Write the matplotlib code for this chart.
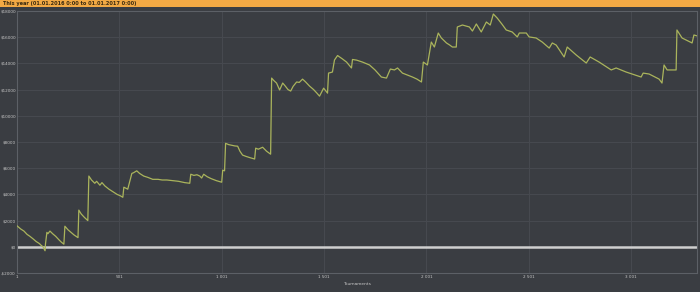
import matplotlib
matplotlib.use('Agg')
import matplotlib.pyplot as plt
from matplotlib.patches import Rectangle

# Cumulative winnings over the year
tournaments = [
    1, 20, 35, 50, 64, 80, 95, 110, 120, 128, 138, 140, 147, 152, 162, 175,
    190, 205, 218, 230, 235, 250, 265, 280, 299, 303, 315, 330, 347, 352, 365,
    381, 390, 406, 416, 430, 450, 470, 490, 505, 518, 523, 535, 542, 562, 570,
    586, 600, 620, 640, 664, 690, 710, 733, 760, 790, 820, 845, 850, 865, 880,
    894, 903, 913, 930, 950, 975, 1001, 1006, 1015, 1020, 1035, 1050, 1065,
    1079, 1090, 1103, 1120, 1140, 1162, 1167, 1180, 1201, 1220, 1240, 1245,
    1255, 1269, 1284, 1299, 1310, 1325, 1338, 1350, 1367, 1380, 1396, 1410,
    1430, 1450, 1465, 1479, 1499, 1518, 1523, 1542, 1552, 1567, 1590, 1611,
    1635, 1640, 1660, 1689, 1723, 1750, 1781, 1806, 1825, 1845, 1860, 1884,
    1910, 1933, 1955, 1977, 1986, 2006, 2025, 2040, 2059, 2074, 2099, 2115,
    2128, 2147, 2152, 2177, 2211, 2226, 2245, 2269, 2294, 2313, 2328, 2347,
    2370, 2391, 2420, 2445, 2455, 2489, 2503, 2537, 2567, 2601, 2616, 2635,
    2674, 2689, 2733, 2782, 2801, 2845, 2904, 2928, 2977, 3050, 3060, 3089,
    3138, 3152, 3162, 3177, 3221, 3225, 3250, 3299, 3308, 3323,
]
winnings = [
    1600, 1350, 1200, 950, 800, 600, 400, 250, 100, 0, -300, 200, 1100, 1000,
    1200, 1000, 800, 550, 350, 200, 1570, 1300, 1100, 900, 700, 2800, 2500,
    2250, 2000, 5400, 5100, 4850, 5000, 4700, 4900, 4650, 4400, 4200, 4000,
    3900, 3780, 4550, 4450, 4400, 5600, 5650, 5800, 5600, 5400, 5300, 5150,
    5150, 5100, 5100, 5050, 5000, 4900, 4850, 5540, 5450, 5500, 5400, 5250,
    5540, 5350, 5200, 5050, 4930, 5850, 5800, 7900, 7800, 7750, 7700, 7680,
    7300, 7000, 6900, 6800, 6700, 7530, 7450, 7600, 7300, 7070, 12880, 12700,
    12500, 11970, 12500, 12300, 12000, 11890, 12250, 12580, 12550, 12800,
    12600, 12270, 12000, 11750, 11500, 12110, 11730, 13260, 13340, 14260,
    14600, 14350, 14100, 13650, 14300, 14250, 14100, 13880, 13500, 12960,
    12880, 13570, 13500, 13650, 13260, 13100, 12960, 12800, 12580, 14100,
    13880, 15630, 15250, 16320, 15940, 15560, 15400, 15250, 15250, 16780,
    16930, 16780, 16470, 17010, 16400, 17160, 16930, 17770, 17460, 17000,
    16550, 16400, 16020, 16320, 16320, 16020, 15940, 15630, 15170, 15560,
    15400, 14490, 15250, 14640, 14030, 14490, 14100, 13500, 13650, 13340,
    12960, 13260, 13190, 12800, 12500, 13880, 13500, 13500, 16550, 15940,
    15560, 16170, 16100,
]

x_ticks = [1, 501, 1001, 1501, 2001, 2501, 3001]
x_labels = ['1', '501', '1 001', '1 501', '2 001', '2 501', '3 001']
y_ticks = [-2000, 0, 2000, 4000, 6000, 8000, 10000, 12000, 14000, 16000, 18000]
y_labels = ['-$2000' if v < 0 else '$%d' % v for v in y_ticks]

title = 'This year (01.01.2016 0:00 to 01.01.2017 0:00)'

BG = '#3a3d42'
GRID = '#474a50'
TXT = '#c8c8c8'

fig = plt.figure(figsize=(7, 2.92), dpi=100, facecolor=BG)

# orange header bar
fig.patches.append(Rectangle((0, 1 - 7 / 292), 1, 7 / 292, transform=fig.transFigure,
                             facecolor='#f2a944', edgecolor='none', zorder=0))
fig.text(3 / 700, 1 - 3.6 / 292, title, fontsize=3.6, color='#3a2a10',
         fontweight='bold', va='center', ha='left')

ax = fig.add_axes([17 / 700, 1 - 273 / 292, 680 / 700, 262 / 292])
ax.set_facecolor(BG)
ax.plot(tournaments, winnings, color='#aab45c', lw=0.9, zorder=3)
ax.axhline(0, color='#cfcfcf', lw=1.8, zorder=2)

ax.set_xlim(1, 3323)
ax.set_ylim(-2000, 18000)
ax.set_xticks(x_ticks)
ax.set_xticklabels(x_labels)
ax.set_yticks(y_ticks)
ax.set_yticklabels(y_labels)
ax.tick_params(colors=TXT, labelsize=3.0, length=0, pad=1.5)
ax.tick_params(axis='y', pad=0.8)
ax.grid(True, color=GRID, lw=0.7)
for s in ax.spines.values():
    s.set_color('#5c6066')
    s.set_linewidth(0.8)

ax.set_xlabel('Tournaments', color=TXT, fontsize=3.2, labelpad=2)

fig.savefig('out.png', dpi=100, facecolor=BG)
